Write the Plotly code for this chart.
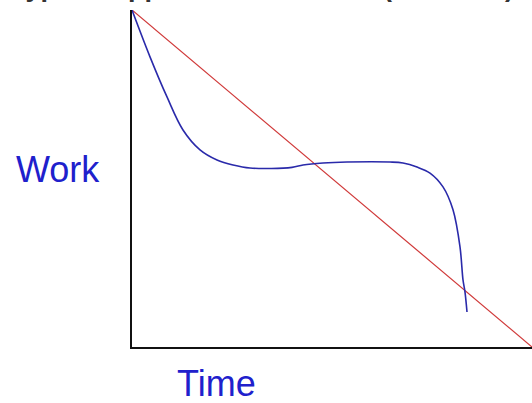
import plotly.graph_objects as go

# Data (time %, remaining work %)
ideal_time = [0, 100]
ideal_work = [100, 0]

actual_time = [0, 4.5, 8.75, 12.75, 17, 21.25, 25.25, 29.5, 40, 42.75, 47.75,
               53.75, 64.5, 67.75, 71.25, 74.5, 77.75, 80.25, 82, 82.75, 83.25, 83.75]
actual_work = [100, 86.1, 74.2, 64.4, 58.5, 55.5, 54.0, 53.1, 53.3, 54.0, 54.6,
               54.9, 54.9, 54.6, 53.4, 51.6, 47.5, 40.7, 29.7, 19.9, 16.3, 10.4]

title_text = "Typical Approach Burndown (Waterfall)"
x_label = "Time"
y_label = "Work"

fig = go.Figure()
fig.add_trace(go.Scatter(x=ideal_time, y=ideal_work, mode="lines",
                         line=dict(color="#d03a3a", width=1.2), hoverinfo="skip"))
fig.add_trace(go.Scatter(x=actual_time, y=actual_work, mode="lines",
                         line=dict(color="#2a2aaa", width=1.6, shape="spline", smoothing=1.0),
                         hoverinfo="skip"))

fig.update_layout(
    width=532, height=403,
    margin=dict(l=132, r=0, t=10, b=56),
    paper_bgcolor="white", plot_bgcolor="white",
    showlegend=False,
    font=dict(family="Liberation Sans, Arial, sans-serif"),
    xaxis=dict(range=[0, 100], showgrid=False, zeroline=False, showticklabels=False,
               ticks="", showline=True, linecolor="#111111", linewidth=1.5, fixedrange=True),
    yaxis=dict(range=[0, 100], showgrid=False, zeroline=False, showticklabels=False,
               ticks="", showline=True, linecolor="#111111", linewidth=1.5, fixedrange=True),
    annotations=[
        dict(text=y_label, xref="paper", yref="paper", x=-74 / 400, y=(347 - 169) / 337,
             xanchor="center", yanchor="middle", showarrow=False,
             font=dict(size=36, color="#2020cc")),
        dict(text=x_label, xref="paper", yref="paper", x=(216 - 132) / 400, y=(347 - 384) / 337,
             xanchor="center", yanchor="middle", showarrow=False,
             font=dict(size=36, color="#2020cc")),
        dict(text="<b>" + title_text + "</b>", xref="paper", yref="paper",
             x=(262 - 132) / 400, y=(347 + 13.5) / 337,
             xanchor="center", yanchor="middle", showarrow=False,
             font=dict(size=27, color="#333333")),
    ],
)

fig.write_html("out.html", config={"displayModeBar": False},
               post_script="document.body.style.margin='0';document.body.style.overflow='hidden';")
